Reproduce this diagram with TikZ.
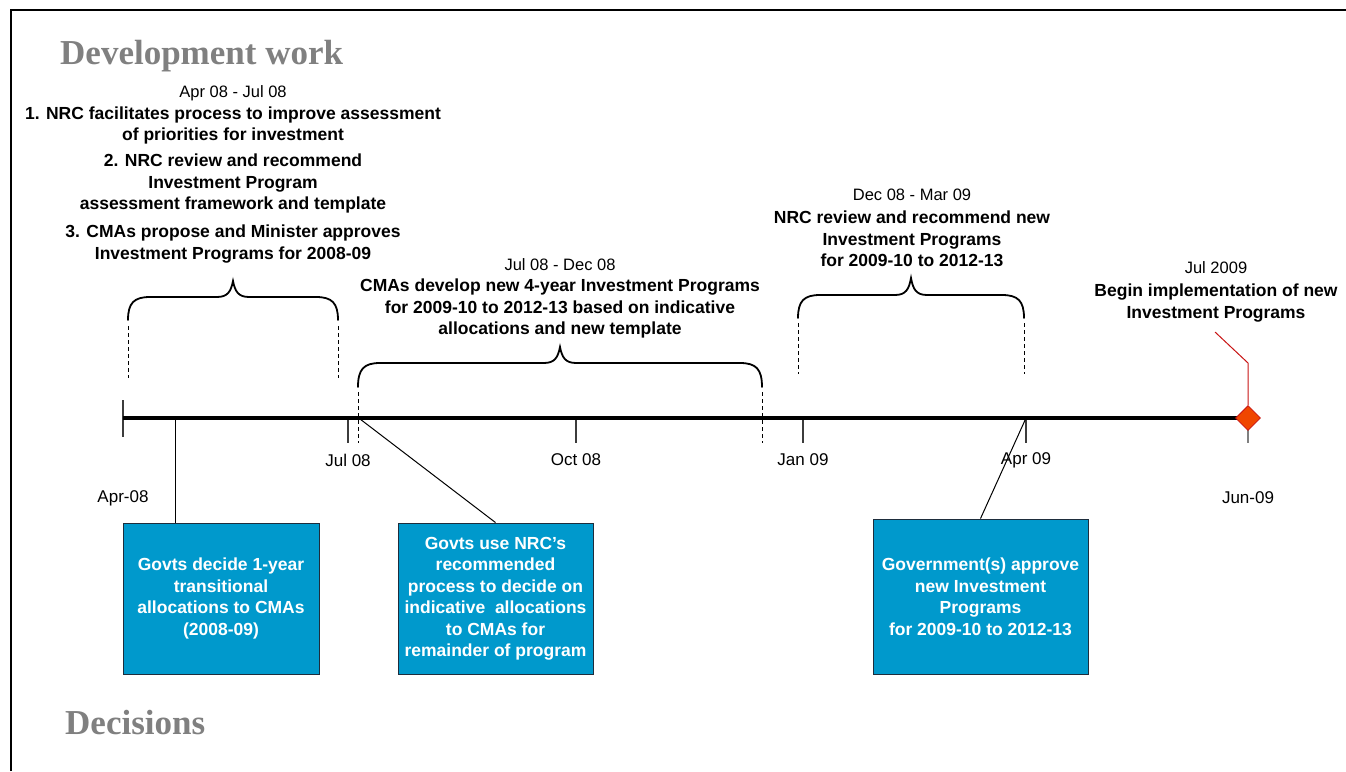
\documentclass[tikz,border=0pt]{standalone}
\usepackage{fontspec}
\setmainfont{Liberation Sans}
\newfontfamily\headserif{Liberation Serif}
\usetikzlibrary{shapes.geometric}

\definecolor{boxblue}{RGB}{0,153,204}
\definecolor{boxline}{RGB}{30,45,60}
\definecolor{headgray}{RGB}{128,128,128}
\definecolor{tickgray}{RGB}{60,60,60}
\definecolor{milefill}{RGB}{240,70,0}
\definecolor{mileline}{RGB}{200,20,20}

% curly brace opening downwards: x-left, x-right, y of the ends, y of the bar, y of the tip
\newcommand{\spanbrace}[5]{%
  \draw[bracestyle] (#1,#3) .. controls (#1,#4+6) and (#1+6,#4) .. (#1+22,#4)
    -- ({(#1+#2)/2-16},#4) .. controls ({(#1+#2)/2-5},#4) and ({(#1+#2)/2-2},#4-6) .. ({(#1+#2)/2},#5)
    .. controls ({(#1+#2)/2+2},#4-6) and ({(#1+#2)/2+5},#4) .. ({(#1+#2)/2+16},#4)
    -- (#2-22,#4) .. controls (#2-6,#4) and (#2,#4+6) .. (#2,#3);}

\begin{document}
\begin{tikzpicture}[x=1pt,y=-1pt,
  datelbl/.style={font=\fontsize{16.5}{20}\selectfont, align=center, inner sep=0pt},
  bodytxt/.style={font=\bfseries\fontsize{17.5}{21.5}\selectfont, align=center, inner sep=0pt},
  axislbl/.style={font=\fontsize{17}{20}\selectfont, inner sep=0pt},
  heading/.style={font=\headserif\bfseries\fontsize{35}{40}\selectfont, text=headgray, anchor=base west, inner sep=0pt},
  decbox/.style={draw=boxline, fill=boxblue, line width=0.9pt, text=white,
    font=\bfseries\fontsize{17.5}{21.5}\selectfont, align=center, inner sep=0pt},
  bracestyle/.style={line width=1.8pt, line cap=round},
  guide/.style={line width=1pt, dash pattern=on 4pt off 3pt},
  tickmark/.style={line width=1.5pt, draw=tickgray},
  leader/.style={line width=1pt, draw=black},
  redleader/.style={line width=1pt, draw=mileline},
]
\useasboundingbox (0,0) rectangle (1346,771);

% frame
\draw[line width=2pt] (11,771) -- (11,10) -- (1346,10);

% section headings
\node[heading] (hdev) at (60,64) {Development work};
\node[heading] (hdec) at (65,734) {Decisions};

% activity texts
\node[datelbl] (d1) at (233,93) {Apr 08 - Jul 08};
\node[bodytxt] (a1) at (233,125.5) {1. NRC facilitates process to improve assessment\\of priorities for investment};
\node[bodytxt] (a2) at (233,183.5) {2. NRC review and recommend\\Investment Program\\assessment framework and template};
\node[bodytxt] (a3) at (233,244) {3. CMAs propose and Minister approves\\Investment Programs for 2008-09};

\node[datelbl] (d2) at (560,265) {Jul 08 - Dec 08};
\node[bodytxt] (a4) at (560,308.5) {CMAs develop new 4-year Investment Programs\\for 2009-10 to 2012-13 based on indicative\\allocations and new template};

\node[datelbl] (d3) at (912,195) {Dec 08 - Mar 09};
\node[bodytxt] (a5) at (912,239) {NRC review and recommend new\\Investment Programs\\for 2009-10 to 2012-13};

\node[datelbl] (d4) at (1216,268) {Jul 2009};
\node[bodytxt] (a6) at (1216,303) {Begin implementation of new\\Investment Programs};

% braces and their guide lines
\spanbrace{128}{338}{320}{297}{281}
\spanbrace{358}{762}{387}{363}{347}
\spanbrace{798}{1024}{318}{295}{278}
\draw[guide] (128,326) -- (128,378);
\draw[guide] (338,326) -- (338,378);
\draw[guide] (358,392) -- (358,443);
\draw[guide] (762,392) -- (762,443);
\draw[guide] (798,323) -- (798,374);
\draw[guide] (1024,323) -- (1024,374);

% timeline points
\coordinate (tstart) at (123,418);
\coordinate (tdec1) at (175,418);
\coordinate (tjul) at (348,418);
\coordinate (tdec2) at (360,419);
\coordinate (toct) at (576,418);
\coordinate (tjan) at (803,418);
\coordinate (tapr) at (1026,418);
\coordinate (tend) at (1248,418);

% ticks
\draw[tickmark] (123,400) -- (123,437);
\draw[tickmark] (tjul) -- (348,443);
\draw[tickmark] (toct) -- (576,443);
\draw[tickmark] (tjan) -- (803,443);
\draw[tickmark] (tapr) -- (1026,443);
\draw[line width=1.5pt, draw=gray] (1248,428) -- (1248,443);

% axis
\draw[line width=4pt] (tstart) -- (tend);

% axis labels
\node[axislbl] (lapr8) at (123,498) {Apr-08};
\node[axislbl] (ljul) at (348,460) {Jul 08};
\node[axislbl] (loct) at (576,460) {Oct 08};
\node[axislbl] (ljan) at (803,460) {Jan 09};
\node[axislbl] (lapr9) at (1026,460) {Apr 09};
\node[axislbl] (ljun) at (1248,498) {Jun-09};

% decision boxes
\node[decbox, minimum width=196pt, minimum height=151pt] (b1) at (221,598.5)
  {Govts decide 1-year\\transitional\\allocations to CMAs\\(2008-09)};
\node[decbox, minimum width=195pt, minimum height=151pt] (b2) at (495.5,598.5)
  {Govts use NRC’s\\recommended\\process to decide on\\indicative\ \ allocations\\to CMAs for\\remainder of program};
\node[decbox, minimum width=215pt, minimum height=155pt] (b3) at (980.5,596.5)
  {Government(s) approve\\new Investment\\Programs\\for 2009-10 to 2012-13};

% leaders from the axis to the boxes
\draw[leader] (tdec1) -- (tdec1 |- b1.north);
\draw[leader] (tdec2) -- (b2.north);
\draw[leader] (tapr) -- (b3.north);

% milestone
\node[diamond, aspect=1, minimum size=25pt, inner sep=0pt, fill=milefill, draw=mileline, line width=0.8pt] (mile) at (tend) {};
\coordinate (rtop) at (1215,332);
\coordinate (rknee) at (1248,363);
\draw[redleader] (rtop) -- (rknee) -- (mile.north);
\end{tikzpicture}
\end{document}
